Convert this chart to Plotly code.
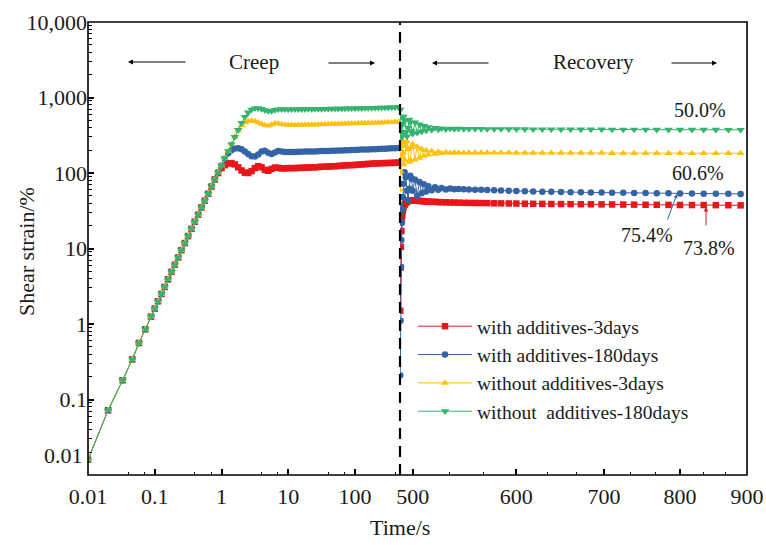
import math
import plotly.graph_objects as go

# ---------------- data ----------------
t_creep = [0.01, 0.02, 0.033, 0.046, 0.058, 0.072, 0.088, 0.1,
           0.112, 0.126, 0.141, 0.158, 0.178, 0.2, 0.224, 0.251, 0.282, 0.316,
           0.355, 0.398, 0.447, 0.501, 0.562, 0.631, 0.708, 0.794, 0.891,
           1.0, 1.12, 1.26, 1.41, 1.58, 1.78, 2.0, 2.24, 2.51, 2.82, 3.16,
           3.55, 3.98, 4.47, 5.01, 5.62, 6.31, 7.08, 7.94, 8.91,
           10, 11.2, 12.6, 14.1, 15.8, 17.8, 20, 22.4, 25.1, 28.2, 31.6,
           35.5, 39.8, 44.7, 50.1, 56.2, 63.1, 70.8, 79.4, 89.1,
           100, 112, 126, 141, 158, 178, 200, 224, 251, 282, 316, 355, 398, 447, 470]

red_creep = [0.016, 0.072, 0.18, 0.34, 0.56, 0.85, 1.25, 1.6,
             2.0, 2.5, 3.1, 3.9, 4.9, 6.1, 7.6, 9.5, 11.8, 14.6,
             18.2, 22.6, 28, 35, 43, 53, 66, 82, 100,
             116, 127, 134, 135, 130, 119, 108, 101, 100, 106, 116,
             123, 119, 110, 107, 113, 118, 117, 115, 115,
             116, 116, 116, 117, 117, 118, 118, 119, 119, 120, 121,
             121, 122, 123, 123, 124, 125, 126, 127, 127,
             128, 129, 130, 131, 132, 133, 134, 134, 135, 135, 136, 136, 137, 137, 137]

blue_creep = [0.016, 0.072, 0.18, 0.34, 0.56, 0.85, 1.25, 1.6,
              2.0, 2.5, 3.1, 3.9, 4.9, 6.1, 7.6, 9.5, 11.8, 14.6,
              18.2, 22.6, 28, 35, 43, 53, 66, 82, 102,
              126, 155, 182, 200, 211, 213, 206, 193, 178, 167, 165,
              176, 193, 197, 185, 179, 187, 195, 193, 190,
              190, 190, 190, 191, 191, 192, 192, 193, 193, 194, 195,
              195, 196, 197, 197, 198, 199, 200, 200, 201,
              202, 203, 204, 205, 205, 206, 207, 208, 209, 210, 211, 212, 213, 214, 214]

yellow_creep = [0.016, 0.072, 0.18, 0.34, 0.56, 0.85, 1.25, 1.6,
                2.0, 2.5, 3.1, 3.9, 4.9, 6.1, 7.6, 9.5, 11.8, 14.6,
                18.2, 22.6, 28, 35, 43, 53, 66, 82, 102,
                126, 157, 195, 242, 300, 365, 425, 465, 487, 493, 486,
                468, 447, 429, 421, 434, 455, 453, 441, 434,
                433, 432, 432, 432, 433, 434, 435, 436, 437, 438, 440,
                441, 442, 444, 445, 447, 448, 450, 451, 452,
                454, 455, 457, 458, 460, 461, 463, 464, 466, 467, 469, 470, 472, 473, 474]

green_creep = [0.016, 0.072, 0.18, 0.34, 0.56, 0.85, 1.25, 1.6,
               2.0, 2.5, 3.1, 3.9, 4.9, 6.1, 7.6, 9.5, 11.8, 14.6,
               18.2, 22.6, 28, 35, 43, 53, 66, 82, 102,
               126, 157, 195, 242, 300, 372, 460, 555, 635, 693, 720,
               722, 706, 680, 660, 665, 685, 698, 700, 698,
               697, 697, 698, 699, 700, 701, 702, 703, 704, 705, 706,
               707, 708, 710, 711, 712, 714, 715, 717, 718,
               720, 721, 723, 725, 727, 728, 730, 732, 734, 736, 738, 740, 742, 745, 748]

t_rec = [489.2, 489.5, 489.8, 490.2, 490.6, 491, 491.5, 492, 493, 494, 495, 496,
         497, 498, 499, 500, 502, 504, 506, 508, 510, 512, 514, 517, 520, 523,
         526, 530, 534, 538, 542, 547, 552, 558, 564, 570, 577, 584, 592, 600,
         609, 618, 628, 638, 649, 660, 672, 684, 697, 710, 724, 738, 753, 768,
         784, 800, 817, 834, 852, 871, 890]

red_rec = [1.5, 5.6, 10.5, 17, 23, 28, 32, 35, 38, 40, 41.5, 42.5,
           43, 43.5, 43.5, 43.5, 43.2, 43, 42.7, 42.4, 42.2, 42, 41.8, 41.6, 41.4, 41.2,
           41, 40.9, 40.7, 40.6, 40.5, 40.3, 40.2, 40.1, 40, 39.9, 39.7, 39.6, 39.5, 39.4,
           39.2, 39.1, 39, 38.9, 38.8, 38.7, 38.6, 38.5, 38.4, 38.3, 38.2, 38.1, 38, 37.9,
           37.8, 37.7, 37.6, 37.6, 37.5, 37.4, 37.3]

blue_rec = [0.21, 1.1, 5.7, 13, 22, 33, 48, 72, 102, 88, 58, 44,
            62, 92, 84, 58, 82, 50, 76, 54, 71, 57, 67, 59, 65, 60,
            63.5, 60.5, 62.5, 61, 61.5, 61, 60.6, 60.2, 59.8, 59.4, 59, 58.6, 58.2, 57.8,
            57.4, 57, 56.6, 56.3, 56, 55.7, 55.5, 55.2, 55, 54.8, 54.6, 54.4, 54.2, 54,
            53.8, 53.6, 53.5, 53.3, 53.2, 53, 52.9]

yellow_rec = [60, 105, 165, 235, 275, 255, 185, 130, 150, 228, 262, 205,
              140, 148, 218, 240, 150, 222, 158, 208, 168, 200, 175, 195, 179, 191,
              182, 189, 184, 187, 185.5, 186, 186, 185.8, 185.6, 185.4, 185.2, 185, 184.8, 184.6,
              184.4, 184.2, 184, 183.9, 183.8, 183.7, 183.6, 183.5, 183.4, 183.3, 183.2, 183.1, 183, 182.9,
              182.8, 182.8, 182.7, 182.6, 182.6, 182.5, 182.5]

green_rec = [690, 560, 430, 340, 300, 330, 450, 560, 500, 350, 305, 400,
             510, 470, 360, 330, 470, 340, 440, 355, 420, 365, 405, 372, 396, 378,
             391, 381, 388, 383, 386, 384, 384, 383.5, 383, 382.5, 382, 381.5, 381, 380.5,
             380, 379.5, 379, 378.5, 378, 378, 377.5, 377, 377, 376.5, 376, 376, 375.5, 375,
             375, 374.5, 374.5, 374, 374, 373.5, 373.5]

series_names = ["with additives-3days", "with additives-180days",
                "without additives-3days", "without  additives-180days"]

x1_tickvals = [0.01, 0.1, 1, 10, 100]
x1_ticktext = ["0.01", "0.1", "1", "10", "100"]
x2_tickvals = [500, 600, 700, 800, 900]
x2_ticktext = ["500", "600", "700", "800", "900"]
y_tickvals = [0.01, 0.1, 1, 10, 100, 1000, 10000]
y_ticktext = ["0.01", "0.1", "1", "10", "100", "1,000", "10,000"]
recovery_labels = ["50.0%", "60.6%", "75.4%", "73.8%"]

# ---------------- layout geometry ----------------
W, H = 766, 545
L, R, T, B = 88, 19, 22, 70
PW, PH = W - L - R, H - T - B
XBREAK = 400
d = (XBREAK - L) / PW


def px(x):
    return (x - L) / PW


def py(y):
    return (T + PH - y) / PH


FONT = "Liberation Serif"
INK = "#1a1a1a"
colors = ["#E8161B", "#3464A4", "#FCC010", "#35B46F"]
symbols = ["square", "circle", "triangle-up", "triangle-down"]
sizes = [6.5, 6.5, 7, 7.5]

creeps = [red_creep, blue_creep, yellow_creep, green_creep]
recs = [red_rec, blue_rec, yellow_rec, green_rec]

fig = go.Figure()
for i in range(4):
    fig.add_trace(go.Scatter(
        x=t_creep, y=creeps[i], mode="lines+markers", name=series_names[i],
        legendgroup=str(i), xaxis="x", yaxis="y",
        line=dict(color=colors[i], width=1),
        marker=dict(symbol=symbols[i], size=sizes[i], color=colors[i], line=dict(width=0))))
    fig.add_trace(go.Scatter(
        x=t_rec, y=recs[i], mode="lines+markers", name=series_names[i],
        legendgroup=str(i), showlegend=False, xaxis="x2", yaxis="y",
        line=dict(color=colors[i], width=1),
        marker=dict(symbol=symbols[i], size=sizes[i], color=colors[i], line=dict(width=0))))

tickfont = dict(family=FONT, size=22, color=INK)
common_x = dict(type="log", showgrid=False, zeroline=False, showline=False,
                automargin=False,
                ticks="inside", ticklen=6, tickwidth=1.5, tickcolor="black",
                tickfont=tickfont, anchor="y", ticklabelstandoff=6)

x1_minor = [m * 10 ** e for e in range(-2, 3) for m in (4, 7) if m * 10 ** e < 472]
x2_minor = [533.33, 566.67, 633.33, 666.67, 733.33, 766.67, 833.33, 866.67]
y_minor = [m * 10 ** e for e in range(-2, 4) for m in range(2, 10)]

fig.update_layout(
    template="none",
    width=W, height=H,
    margin=dict(l=L, r=R, t=T, b=B, autoexpand=False),
    paper_bgcolor="white", plot_bgcolor="white",
    font=dict(family=FONT, color=INK),
    xaxis=dict(common_x, domain=[0, d], range=[-2, math.log10(472)],
               tickvals=x1_tickvals, ticktext=x1_ticktext,
               minor=dict(tickvals=x1_minor, ticks="inside", ticklen=3.5,
                          tickwidth=1.2, tickcolor="black", showgrid=False)),
    xaxis2=dict(common_x, domain=[d, 1], range=[math.log10(489), math.log10(900)],
                tickvals=x2_tickvals, ticktext=x2_ticktext,
                minor=dict(tickvals=x2_minor, ticks="inside", ticklen=3.5,
                           tickwidth=1.2, tickcolor="black", showgrid=False)),
    yaxis=dict(type="log", range=[-2, 4], showgrid=False, zeroline=False, showline=False,
               automargin=False,
               ticks="inside", ticklen=6, tickwidth=1.5, tickcolor="black",
               tickvals=y_tickvals, ticktext=[""] + y_ticktext[1:], tickfont=tickfont,
               minor=dict(tickvals=y_minor, ticks="inside", ticklen=3.5,
                          tickwidth=1.2, tickcolor="black", showgrid=False)),
    legend=dict(x=px(413), y=py(307), xanchor="left", yanchor="top",
                bgcolor="rgba(0,0,0,0)", borderwidth=0,
                font=dict(family=FONT, size=19.5, color=INK),
                itemwidth=54, tracegroupgap=3, traceorder="normal"),
    showlegend=True,
)

shapes = [
    dict(type="rect", xref="paper", yref="paper", x0=0, x1=1, y0=0, y1=1,
         line=dict(color="black", width=1.6), layer="above"),
    dict(type="line", xref="paper", yref="paper", x0=d, x1=d, y0=0, y1=1,
         line=dict(color="black", width=2.2, dash="11px,7px"), layer="above"),
]
fig.update_layout(shapes=shapes)

ann = []


def text(s, x, y, size=20, angle=0, xanchor="center"):
    ann.append(dict(text=s, x=px(x), y=py(y), xref="paper", yref="paper",
                    showarrow=False, xanchor=xanchor, yanchor="middle",
                    textangle=angle, font=dict(family=FONT, size=size, color=INK)))


def arrow(x_head, y_head, x_tail, y_tail, color="black", width=1, size=1.0):
    ann.append(dict(text="", x=px(x_head), y=py(y_head), xref="paper", yref="paper",
                    showarrow=True, ax=x_tail - x_head, ay=y_tail - y_head,
                    arrowhead=2, arrowsize=size, arrowwidth=width, arrowcolor=color,
                    standoff=0, startstandoff=0))


text("Creep", 254, 62, 21)
arrow(128, 62, 187, 62)
arrow(375, 63, 327, 63)
text("Recovery", 593, 62, 21)
arrow(432, 63, 490, 63)
arrow(717, 63, 670, 63)
text(recovery_labels[0], 700, 110)
text(recovery_labels[1], 698, 173)
text(recovery_labels[2], 647, 235)
text(recovery_labels[3], 709, 248)
arrow(677, 194, 667, 221, color=colors[1], width=1, size=0.8)
arrow(706, 207, 706, 227, color=colors[0], width=1, size=0.9)
text("Time/s", 400, 527, 22)
text("Shear strain/%", 27, 252, 22, angle=-90)
text(y_ticktext[0], 85, 455, 22, xanchor="right")
fig.update_layout(annotations=ann)

fig.write_html("out.html")
